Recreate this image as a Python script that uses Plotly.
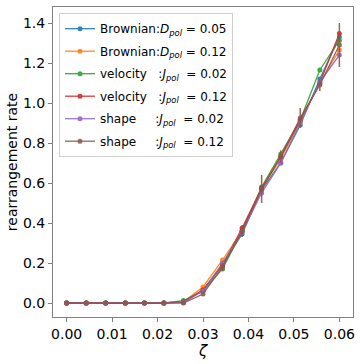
import plotly.graph_objects as go

zeta = [0.0, 0.0043, 0.0086, 0.0129, 0.0171, 0.0214, 0.0257, 0.03, 0.0343,
        0.0386, 0.0429, 0.0471, 0.0514, 0.0557, 0.06]

brown_005 = [0, 0, 0, 0, 0, 0, 0.003, 0.065, 0.19, 0.345, 0.565, 0.70, 0.89, 1.12, 1.33]
brown_012 = [0, 0, 0, 0, 0, 0, 0.006, 0.08, 0.215, 0.36, 0.57, 0.72, 0.91, 1.10, 1.265]
vel_002 = [0, 0, 0, 0, 0, 0, 0.012, 0.06, 0.17, 0.36, 0.58, 0.745, 0.915, 1.165, 1.313]
vel_012 = [0, 0, 0, 0, 0, 0, 0.006, 0.065, 0.19, 0.375, 0.575, 0.73, 0.915, 1.10, 1.347]
shape_002 = [0, 0, 0, 0, 0, 0, 0.003, 0.06, 0.20, 0.355, 0.55, 0.70, 0.905, 1.105, 1.24]
shape_012 = [0, 0, 0, 0, 0, 0, 0.0, 0.045, 0.18, 0.36, 0.57, 0.733, 0.925, 1.09, 1.29]
shape_012_err = [0, 0, 0, 0, 0, 0, 0.005, 0.01, 0.02, 0.03, 0.07, 0.03, 0.05, 0.03, 0.11]

names = [
    "Brownian:<i>D</i><sub><i>pol</i></sub> = 0.05",
    "Brownian:<i>D</i><sub><i>pol</i></sub> = 0.12",
    "velocity\u00a0\u00a0\u00a0:<i>J</i><sub><i>pol</i></sub>\u00a0\u00a0= 0.02",
    "velocity\u00a0\u00a0\u00a0:<i>J</i><sub><i>pol</i></sub>\u00a0\u00a0= 0.12",
    "shape\u00a0\u00a0\u00a0\u00a0\u00a0:<i>J</i><sub><i>pol</i></sub>\u00a0\u00a0= 0.02",
    "shape\u00a0\u00a0\u00a0\u00a0\u00a0:<i>J</i><sub><i>pol</i></sub>\u00a0\u00a0= 0.12",
]
series = [brown_005, brown_012, vel_002, vel_012, shape_002, shape_012]
colors = ["#1f77b4", "#ff7f0e", "#2ca02c", "#d62728", "#9467bd", "#8c564b"]

fig = go.Figure()
for i, (nm, ys, c) in enumerate(zip(names, series, colors)):
    kw = {}
    if i == 5:
        kw["error_y"] = dict(type="data", array=shape_012_err, color=c, thickness=1.5, width=0)
    fig.add_trace(go.Scatter(
        x=zeta, y=ys, name=nm, mode="lines+markers",
        legendgroup="g%d" % i,
        line=dict(color=c, width=1.3),
        marker=dict(color=c, size=5),
        opacity=0.9,
        **kw))

axis_common = dict(
    showgrid=False, zeroline=False, showline=True, mirror=True, automargin=False,
    linecolor="#808080", linewidth=1, ticks="outside", ticklen=4,
    tickcolor="#808080", tickfont=dict(family="DejaVu Sans", size=14, color="black"),
)

fig.update_layout(
    width=364, height=364,
    margin=dict(l=53, r=11, t=7, b=47),
    plot_bgcolor="white", paper_bgcolor="white",
    font=dict(family="DejaVu Sans", color="black"),
    xaxis=dict(range=[-0.003, 0.063], tickvals=[0, 0.01, 0.02, 0.03, 0.04, 0.05, 0.06],
               tickformat=".2f",
               title=dict(text="<i>ζ</i>", font=dict(size=15), standoff=0), **axis_common),
    yaxis=dict(range=[-0.07, 1.48], tickvals=[0, 0.2, 0.4, 0.6, 0.8, 1.0, 1.2, 1.4],
               tickformat=".1f",
               title=dict(text="rearrangement rate", font=dict(size=14), standoff=2), **axis_common),
    legend=dict(x=0.02, y=0.98, xanchor="left", yanchor="top",
                bgcolor="rgba(255,255,255,0.8)", bordercolor="#d0d0d0", borderwidth=1,
                font=dict(size=12, family="DejaVu Sans"), itemwidth=30, tracegroupgap=3.5),
    showlegend=True,
)

fig.write_html("out.html", config={"displayModeBar": False},
               post_script="document.body.style.margin='0';")
